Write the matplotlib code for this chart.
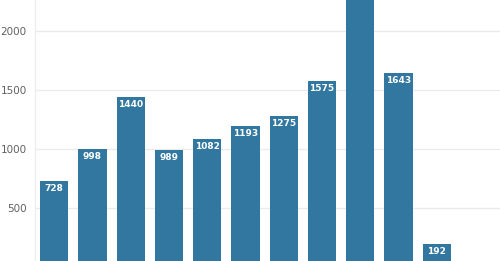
import matplotlib.pyplot as plt

categories = list(range(11))
values = [728, 998, 1440, 989, 1082, 1193, 1275, 1575, 2450, 1643, 192]
yticks = [500, 1000, 1500, 2000]
y_top = 2263

fig = plt.figure(figsize=(5, 2.61), dpi=100)
ax = fig.add_axes([0.07, 0, 0.93, 1])

bars = ax.bar(categories, values, width=0.74, color='#31779f', zorder=2)
for rect, v in zip(bars, values):
    # the tallest bar runs off the top, its label is not visible
    if v - 60 > y_top:
        continue
    ax.text(rect.get_x() + rect.get_width() / 2, v - 62, str(v),
            ha='center', va='center', color='white', fontsize=6.5,
            fontweight='bold', zorder=3)

ax.set_xlim(-0.5, 11.65)
ax.set_ylim(47, y_top)
ax.set_yticks(yticks)
ax.set_xticks([])
ax.grid(axis='y', color='#ebebeb', linewidth=1, zorder=0)
for side in ['top', 'right', 'bottom']:
    ax.spines[side].set_visible(False)
ax.spines['left'].set_color('#ebebeb')
ax.tick_params(axis='y', length=0, pad=6, labelsize=7.5, labelcolor='#606060')

fig.savefig('out.png', dpi=100)
